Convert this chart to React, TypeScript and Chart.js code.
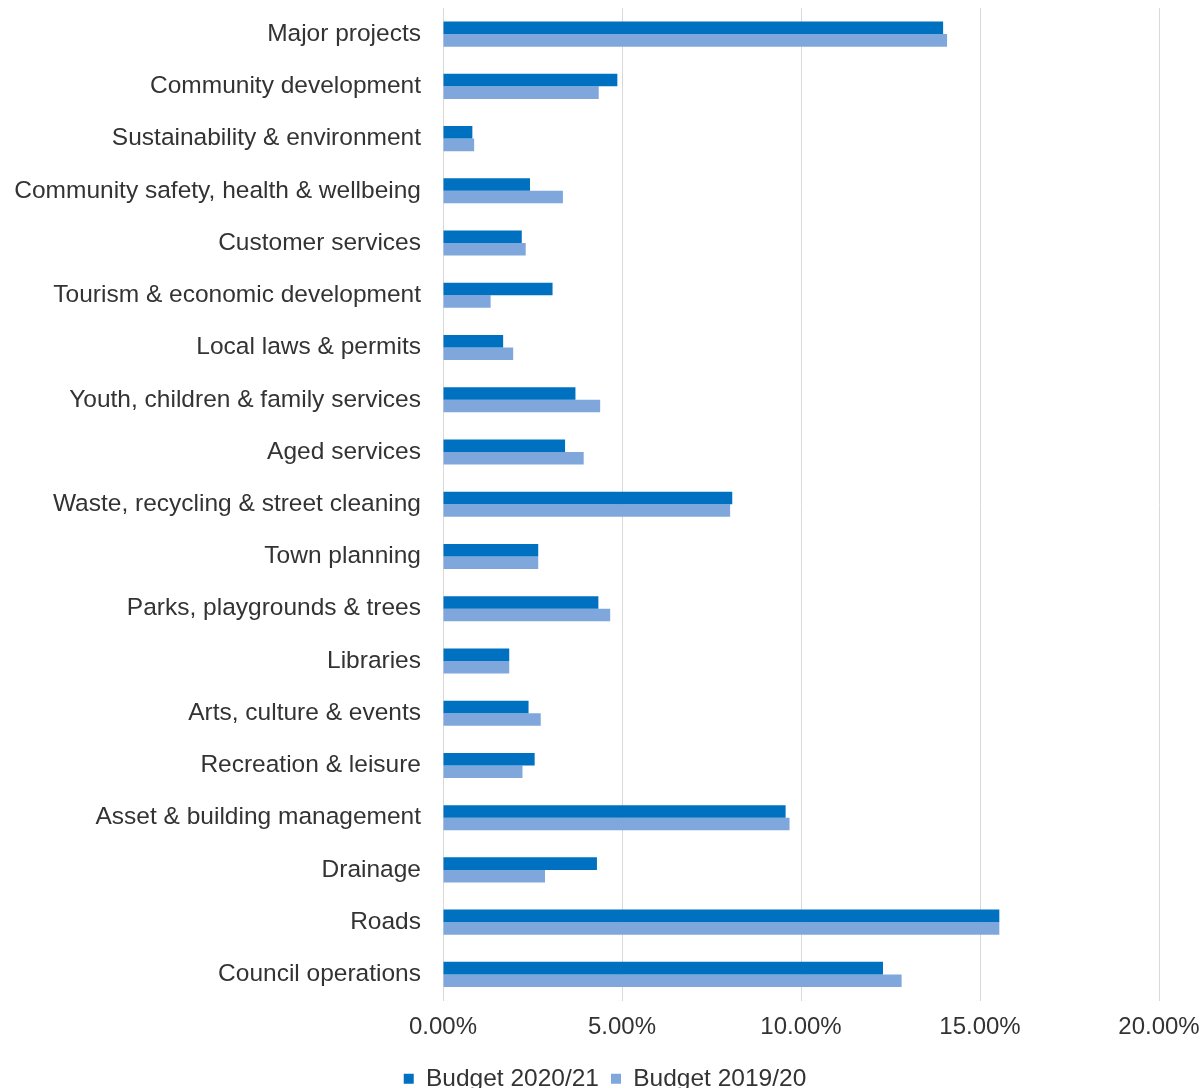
import React, { useEffect, useRef } from "react";
import { Chart, registerables } from "chart.js";

Chart.register(...registerables);

const categories = [
  "Major projects",
  "Community development",
  "Sustainability & environment",
  "Community safety, health & wellbeing",
  "Customer services",
  "Tourism & economic development",
  "Local laws & permits",
  "Youth, children & family services",
  "Aged services",
  "Waste, recycling & street cleaning",
  "Town planning",
  "Parks, playgrounds & trees",
  "Libraries",
  "Arts, culture & events",
  "Recreation & leisure",
  "Asset & building management",
  "Drainage",
  "Roads",
  "Council operations",
];

const budget2021 = [
  13.97, 4.87, 0.82, 2.43, 2.2, 3.06, 1.68, 3.7, 3.41, 8.08, 2.66, 4.34, 1.85,
  2.39, 2.56, 9.57, 4.3, 15.54, 12.29,
];

const budget2020 = [
  14.08, 4.35, 0.87, 3.35, 2.31, 1.33, 1.96, 4.39, 3.93, 8.02, 2.66, 4.67, 1.85,
  2.73, 2.22, 9.68, 2.85, 15.54, 12.81,
];

const seriesLabels = ["Budget 2020/21", "Budget 2019/20"];
const xTicks = [0, 5, 10, 15, 20];

export default function App() {
  const ref = useRef<HTMLCanvasElement | null>(null);

  useEffect(() => {
    if (!ref.current) return;
    const font = "'Liberation Sans', Arial, sans-serif";
    const chart = new Chart(ref.current, {
      type: "bar",
      data: {
        labels: categories,
        datasets: [
          {
            label: seriesLabels[0],
            data: budget2021,
            backgroundColor: "#0070C0",
            barPercentage: 1,
            categoryPercentage: 0.48,
          },
          {
            label: seriesLabels[1],
            data: budget2020,
            backgroundColor: "#7FA7DC",
            barPercentage: 1,
            categoryPercentage: 0.48,
          },
        ],
      },
      options: {
        indexAxis: "y",
        animation: false,
        responsive: true,
        maintainAspectRatio: false,
        layout: { padding: { top: 8, right: 0, left: 9, bottom: -13 } },
        plugins: {
          tooltip: { enabled: false },
          legend: {
            position: "bottom",
            labels: {
              boxWidth: 10,
              boxHeight: 10,
              padding: 12,
              color: "#333",
              font: { family: font, size: 24.5 },
            },
          },
        },
        scales: {
          x: {
            min: 0,
            max: 20,
            afterBuildTicks: (scale: any) => {
              scale.ticks = xTicks.map((v) => ({ value: v }));
            },
            afterFit: (scale: any) => {
              scale.height = 54;
              scale.paddingLeft = 0;
              scale.paddingRight = 42;
              scale.paddingTop = 0;
              scale.paddingBottom = 0;
            },
            grid: { color: "#d9d9d9", drawTicks: false },
            border: { display: false },
            ticks: {
              padding: 12,
              color: "#333",
              font: { family: font, size: 24 },
              callback: (v: any) => Number(v).toFixed(2) + "%",
            },
          },
          y: {
            afterFit: (scale: any) => {
              scale.width = 434;
              scale.paddingLeft = 0;
              scale.paddingRight = 0;
              scale.paddingTop = 0;
              scale.paddingBottom = 0;
            },
            grid: { display: false, drawTicks: false },
            border: { display: false },
            ticks: {
              padding: 22,
              color: "#333",
              font: { family: font, size: 24.5 },
            },
          },
        },
      },
    });
    return () => chart.destroy();
  }, []);

  return (
    <div
      style={{
        position: "fixed",
        left: 0,
        top: 0,
        width: 1201,
        height: 1088,
        background: "#fff",
      }}
    >
      <canvas ref={ref} />
    </div>
  );
}
